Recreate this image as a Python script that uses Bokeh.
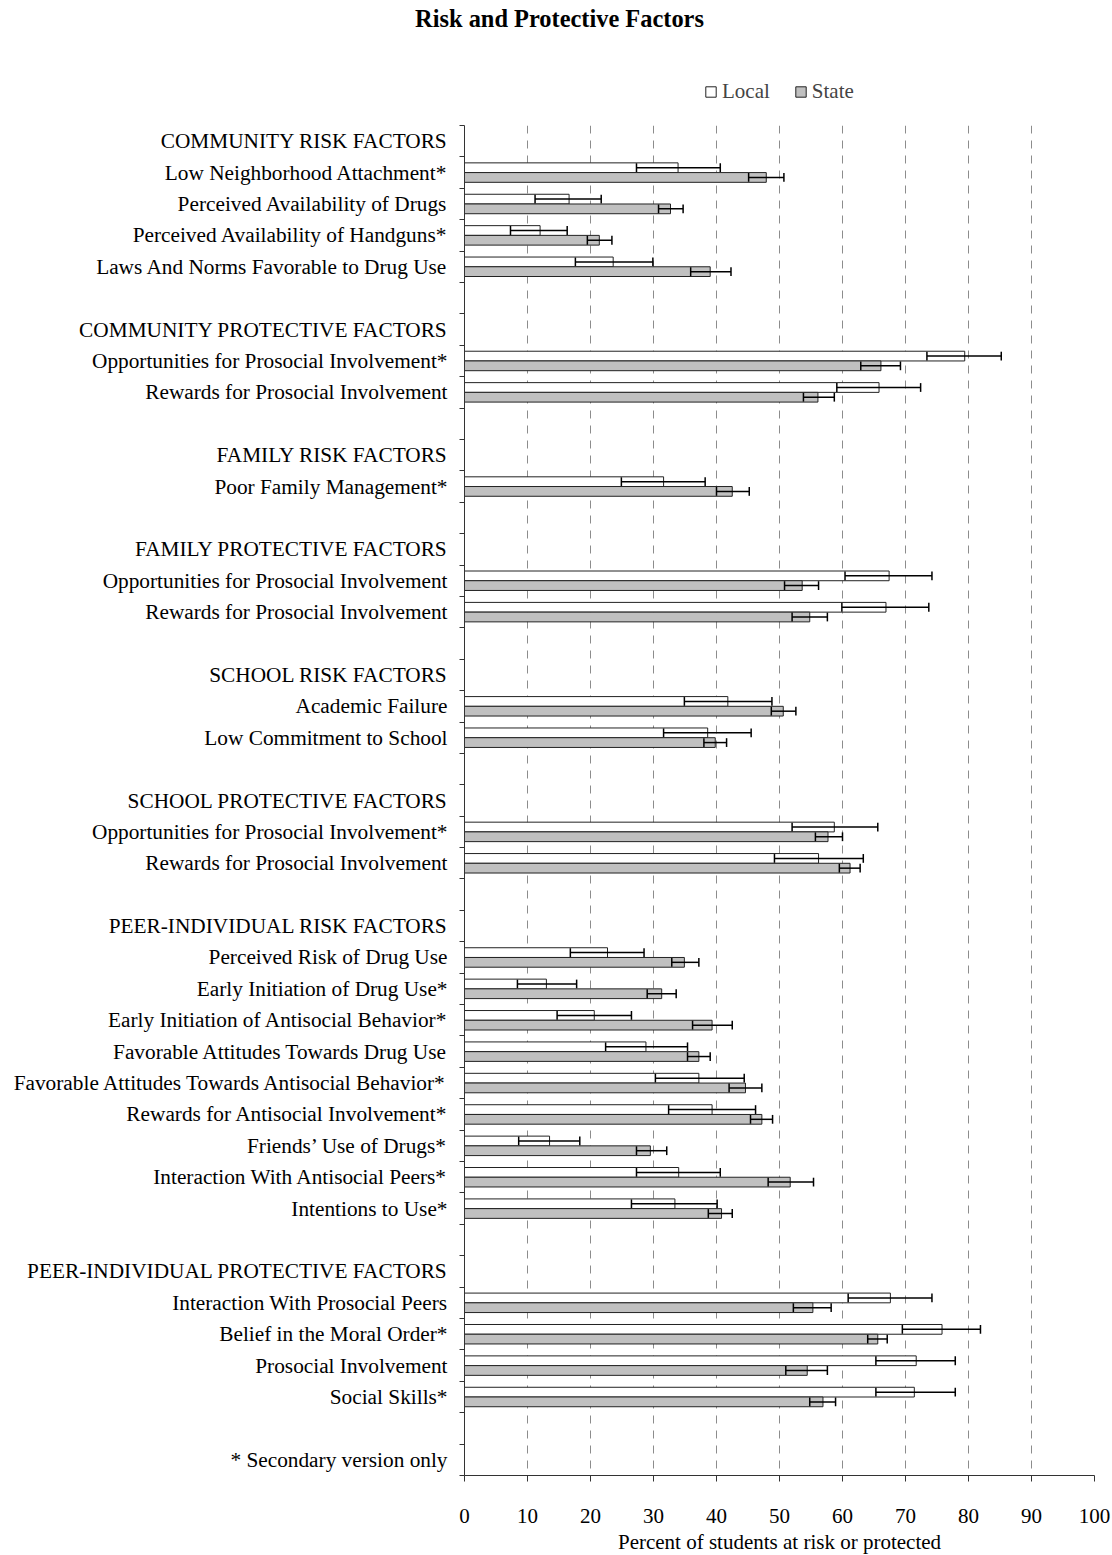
from bokeh.plotting import figure
from bokeh.layouts import column
from bokeh.models import Range1d, FixedTicker, Label, ColumnDataSource
from bokeh.embed import file_html
from bokeh.resources import INLINE

# ---------------- data ----------------
categories = [
    "COMMUNITY RISK FACTORS",
    "Low Neighborhood Attachment*",
    "Perceived Availability of Drugs",
    "Perceived Availability of Handguns*",
    "Laws And Norms Favorable to Drug Use",
    "",
    "COMMUNITY PROTECTIVE FACTORS",
    "Opportunities for Prosocial Involvement*",
    "Rewards for Prosocial Involvement",
    "",
    "FAMILY RISK FACTORS",
    "Poor Family Management*",
    "",
    "FAMILY PROTECTIVE FACTORS",
    "Opportunities for Prosocial Involvement",
    "Rewards for Prosocial Involvement",
    "",
    "SCHOOL RISK FACTORS",
    "Academic Failure",
    "Low Commitment to School",
    "",
    "SCHOOL PROTECTIVE FACTORS",
    "Opportunities for Prosocial Involvement*",
    "Rewards for Prosocial Involvement",
    "",
    "PEER-INDIVIDUAL RISK FACTORS",
    "Perceived Risk of Drug Use",
    "Early Initiation of Drug Use*",
    "Early Initiation of Antisocial Behavior*",
    "Favorable Attitudes Towards Drug Use",
    "Favorable Attitudes Towards Antisocial Behavior*",
    "Rewards for Antisocial Involvement*",
    "Friends\u2019 Use of Drugs*",
    "Interaction With Antisocial Peers*",
    "Intentions to Use*",
    "",
    "PEER-INDIVIDUAL PROTECTIVE FACTORS",
    "Interaction With Prosocial Peers",
    "Belief in the Moral Order*",
    "Prosocial Involvement",
    "Social Skills*",
    "",
    "* Secondary version only",
]

N = None
local_value = [N, 33.9, 16.6, 12.0, 23.6, N, N, 79.4, 65.8, N, N, 31.6, N, N, 67.4, 66.9, N, N, 41.8, 38.6, N, N, 58.7, 56.2, N, N,
               22.7, 13.0, 20.6, 28.8, 37.2, 39.3, 13.5, 34.0, 33.4, N, N, 67.6, 75.8, 71.7, 71.4, N, N]
local_low = [N, 27.3, 11.2, 7.3, 17.6, N, N, 73.4, 59.1, N, N, 24.9, N, N, 60.4, 59.9, N, N, 34.9, 31.6, N, N, 52.0, 49.2, N, N,
             16.8, 8.4, 14.7, 22.4, 30.3, 32.4, 8.6, 27.3, 26.5, N, N, 60.9, 69.5, 65.3, 65.3, N, N]
local_high = [N, 40.6, 21.7, 16.3, 29.9, N, N, 85.2, 72.4, N, N, 38.2, N, N, 74.2, 73.7, N, N, 48.8, 45.5, N, N, 65.6, 63.3, N, N,
              28.5, 17.8, 26.5, 35.4, 44.4, 46.2, 18.3, 40.6, 40.1, N, N, 74.2, 81.9, 77.9, 77.9, N, N]
state_value = [N, 47.9, 32.7, 21.4, 39.0, N, N, 66.1, 56.1, N, N, 42.5, N, N, 53.6, 54.8, N, N, 50.6, 39.8, N, N, 57.7, 61.2, N, N,
               34.9, 31.3, 39.3, 37.2, 44.6, 47.2, 29.5, 51.7, 40.8, N, N, 55.3, 65.6, 54.4, 56.9, N, N]
state_low = [N, 45.1, 30.8, 19.5, 35.9, N, N, 62.9, 53.8, N, N, 40.0, N, N, 50.8, 52.0, N, N, 48.7, 38.0, N, N, 55.7, 59.5, N, N,
             32.9, 29.0, 36.2, 35.4, 42.0, 45.4, 27.3, 48.2, 38.7, N, N, 52.2, 64.0, 51.0, 54.8, N, N]
state_high = [N, 50.7, 34.7, 23.4, 42.3, N, N, 69.2, 58.7, N, N, 45.2, N, N, 56.2, 57.6, N, N, 52.6, 41.6, N, N, 60.0, 62.8, N, N,
              37.2, 33.6, 42.5, 39.0, 47.2, 48.9, 32.1, 55.4, 42.5, N, N, 58.2, 67.1, 57.6, 58.9, N, N]

x_ticks = [0, 10, 20, 30, 40, 50, 60, 70, 80, 90, 100]
series_names = ["Local", "State"]
series_fills = ["white", "#C0C0C0"]

title_text = "Risk and Protective Factors"
x_title = "Percent of students at risk or protected"

# ---------------- style ----------------
FONT = "Liberation Serif"
LABEL_SIZE = "21.3px"
BAR_H = 0.31
CAP = 0.14
W = 1112
TOP_H = 110
MAIN_H = 1420
FOOT_H = 1555 - TOP_H - MAIN_H

n = len(categories)
centers = list(range(1, n + 1))
boundaries = [c + 0.5 for c in range(0, n + 1)]


def series(vals, lows, highs, offset):
    ys, v, lo, hi = [], [], [], []
    for c, a, b, d in zip(centers, vals, lows, highs):
        if a is None:
            continue
        ys.append(c + offset)
        v.append(a)
        lo.append(b)
        hi.append(d)
    return ColumnDataSource(dict(y=ys, v=v, lo=lo, hi=hi,
                                 ytop=[y - CAP for y in ys], ybot=[y + CAP for y in ys]))


src_local = series(local_value, local_low, local_high, -BAR_H / 2)
src_state = series(state_value, state_low, state_high, BAR_H / 2)
sources = [src_local, src_state]


def blank_fig(h):
    f = figure(width=W, height=h, output_backend="svg", toolbar_location=None,
               x_range=Range1d(0, W), y_range=Range1d(h, 0),
               x_axis_location=None, y_axis_location=None, frame_align=False,
               min_border_left=0, min_border_right=0, min_border_top=0, min_border_bottom=0)
    f.outline_line_color = None
    f.xgrid.visible = False
    f.ygrid.visible = False
    return f


# ---------- header figure (title + legend) ----------
head = blank_fig(TOP_H)
for name, fill, src in zip(series_names, series_fills, sources):
    # legend proxies: same data, not drawn in the header (only their legend swatch is)
    head.hbar(y="y", height=BAR_H, left=0, right="v", source=src, fill_color=fill,
              line_color="#222222", line_width=1, legend_label=name, visible=False)
lg = head.legend[0]
lg.orientation = "horizontal"
lg.location = (704, 6)
lg.glyph_width = 13
lg.glyph_height = 13
lg.label_standoff = 5
lg.spacing = 24
lg.padding = 0
lg.margin = 0
lg.border_line_color = None
lg.background_fill_alpha = 0
lg.inactive_fill_alpha = 0
lg.click_policy = "none"
lg.label_text_font = FONT
lg.label_text_font_size = "21px"
lg.label_height = 20
head.add_layout(Label(x=559, y=18, text=title_text,
                      text_font=FONT, text_font_size="24.4px", text_font_style="bold",
                      text_align="center", text_baseline="middle", text_color="black"))

# ---------- main figure ----------
p = figure(width=W, height=MAIN_H, output_backend="svg", toolbar_location=None,
           x_range=Range1d(0, 100), y_range=Range1d(n + 0.5, 0.5), frame_align=False,
           min_border_left=464, min_border_right=18, min_border_top=15, min_border_bottom=55)
p.outline_line_color = None

for src, fill in zip(sources, series_fills):
    p.hbar(y="y", height=BAR_H, left=0, right="v", source=src,
           fill_color=fill, line_color="#222222", line_width=1)
    p.segment(x0="lo", y0="y", x1="hi", y1="y", source=src, line_color="black", line_width=1.5)
    p.segment(x0="lo", y0="ytop", x1="lo", y1="ybot", source=src, line_color="black", line_width=1.5)
    p.segment(x0="hi", y0="ytop", x1="hi", y1="ybot", source=src, line_color="black", line_width=1.5)

# y axis
yax = p.yaxis[0]
yax.ticker = FixedTicker(ticks=centers, minor_ticks=boundaries)
yax.major_label_overrides = {c: lab for c, lab in zip(centers, categories)}
yax.major_tick_out = 0
yax.major_tick_in = 0
yax.minor_tick_out = 5
yax.minor_tick_in = 0
yax.minor_tick_line_color = "#333333"
yax.major_label_standoff = 12
yax.major_label_text_font = FONT
yax.major_label_text_font_size = LABEL_SIZE
yax.major_label_text_color = "black"
yax.axis_line_color = "#333333"

# x axis
xax = p.xaxis[0]
xax.ticker = FixedTicker(ticks=x_ticks)
xax.major_tick_out = 6
xax.major_tick_in = 0
xax.minor_tick_out = 0
xax.minor_tick_in = 0
xax.major_tick_line_color = "#333333"
xax.axis_line_color = "#333333"
xax.major_label_standoff = 27
xax.major_label_text_font = FONT
xax.major_label_text_font_size = "21px"
xax.major_label_text_color = "black"

p.xgrid.ticker = FixedTicker(ticks=x_ticks[1:])
p.xgrid.grid_line_color = "#8c8c8c"
p.xgrid.grid_line_dash = "8 7"
p.xgrid.grid_line_width = 1
p.ygrid.grid_line_color = None

# ---------- footer figure (x-axis title) ----------
foot = blank_fig(FOOT_H)
foot.add_layout(Label(x=779, y=11, text=x_title,
                      text_font=FONT, text_font_size="21px",
                      text_align="center", text_baseline="middle", text_color="black"))

layout = column(head, p, foot, spacing=0)
open("out.html", "w").write(file_html(layout, INLINE))
